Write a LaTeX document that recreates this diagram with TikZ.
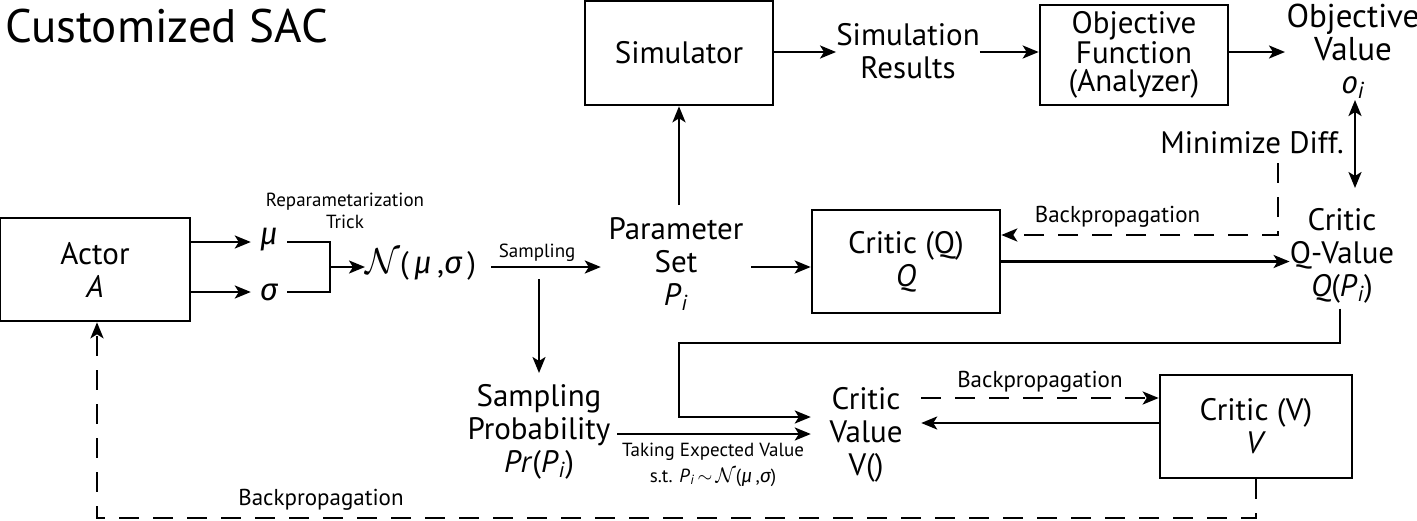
\RequirePackage{fix-cm}
\documentclass[tikz,border=0pt]{standalone}
\usepackage{fontspec}
\setmainfont{PT Sans}
\newfontfamily\grk{Fira Sans}
\newcommand{\gmu}{{\grk\itshape μ}}
\newcommand{\gsg}{{\grk\itshape σ}}
\newcommand{\calN}{$\mathcal{N}$}
\usetikzlibrary{arrows.meta}
\begin{document}
\begin{tikzpicture}[x=1pt,y=-1pt,
  every node/.style={inner sep=0pt},
  bigtxt/.style={font=\fontsize{31}{33}\selectfont, align=center},
  midtxt/.style={font=\fontsize{31}{28}\selectfont, align=center},
  smalltxt/.style={font=\fontsize{19}{22}\selectfont, align=center},
  labtxt/.style={font=\fontsize{23}{24}\selectfont, align=center},
  blk/.style={draw, line width=2.6pt, bigtxt},
  conn/.style={line width=2.5pt},
  arr/.style={conn, -{Stealth[length=16pt,width=13pt,inset=4pt]}},
  dbl/.style={conn, {Stealth[length=16pt,width=13pt,inset=4pt]}-{Stealth[length=16pt,width=13pt,inset=4pt]}},
  dsh/.style={dash pattern=on 20pt off 14pt}
]
\useasboundingbox (0,0) rectangle (1417,520);

% title
\node[anchor=west, font=\fontsize{47}{50}\selectfont] (title) at (5,26) {Customized SAC};

% top row
\node[blk, minimum width=188, minimum height=104] (sim) at (679,53) {Simulator};
\node[bigtxt] (sr) at (908,51) {Simulation\\Results};
\node[blk, midtxt, minimum width=188, minimum height=100] (of) at (1134,55) {Objective\\Function\\(Analyzer)};
\node[font=\fontsize{33}{33}\selectfont, align=center] (ov) at (1353,51) {Objective\\Value\\\textit{o}\textsubscript{\textit{i}}};

% actor part
\node[blk, minimum width=190, minimum height=103] (actor) at (95,269.5) {Actor\\\textit{A}};
\node[bigtxt, minimum width=36] (mu) at (269,240) {\gmu};
\node[bigtxt, minimum width=36] (sg) at (269,292) {\gsg};
\node[smalltxt] (rt) at (345,211) {Reparametarization\\Trick};
\coordinate (b1) at (330,242);
\coordinate (b2) at (330,292);
\coordinate (jn) at (330,267);
\node[bigtxt, anchor=west] (nd) at (365,265) {{\fontsize{36}{36}\selectfont\calN}(\,\gmu\,,\gsg\,)};

% parameter set
\node[bigtxt, minimum width=150] (ps) at (676,264) {Parameter\\Set\\\textit{P}\textsubscript{\textit{i}}};
\node[blk, minimum width=188, minimum height=103] (cq) at (906,261.5) {Critic (Q)\\\textit{Q}};
\node[bigtxt] (cqv) at (1342,256) {Critic\\Q-Value\\\textit{Q}(\textit{P}\textsubscript{\textit{i}})};
\node[bigtxt] (md) at (1252,143) {Minimize Diff.};

% sampling probability
\coordinate (sps) at (539,279);
\node[bigtxt, minimum width=160] (sp) at (539,432) {Sampling\\Probability\\\textit{Pr}(\textit{P}\textsubscript{\textit{i}})};
\node[bigtxt, minimum width=110] (cv) at (866,435) {Critic\\Value\\V()};
\node[blk, minimum width=192, minimum height=103] (cvb) at (1256,426.5) {Critic (V)\\\textit{V}};

% connectors top
\draw[arr] (sim.south |- 0,205) -- (sim.south);
\draw[arr] (sim.east |- 0,52) -- (sr.west |- 0,52);
\draw[arr] (sr.east |- 0,52) -- (of.west |- 0,52);
\draw[arr] (of.east |- 0,52) -- (1285,52);
\draw[dbl] (1355,100) -- (1355,188);

% actor connectors
\draw[arr] (actor.east |- 0,242) -- (mu.west |- 0,242);
\draw[arr] (actor.east |- sg) -- (sg.west);
\draw[conn] (mu.east |- b1) -- (b1) -- (b2) -- (sg.east);
\draw[arr] (jn) -- (nd.west |- jn);

% sampling
\draw[arr] (491,267) -- (ps.west |- jn) node[pos=0.42, above=4pt, smalltxt] (samp) {Sampling};
\draw[arr] (sps) -- (sps |- 0,373);
\draw[arr] (ps.east |- jn) -- (cq.west |- jn);
\draw[arr] (cq.east) -- (cqv.west |- cq.east);

% backprop Q
\coordinate (bq1) at (1278,163);
\coordinate (bq2) at (1278,235);
\draw[arr, dsh] (bq1) -- (bq2) -- (bq2 -| cq.east) node[pos=0.58, above=6pt, labtxt] (bpq) {Backpropagation};

% Q value to V
\coordinate (c1) at (1340,343);
\coordinate (c2) at (679,343);
\coordinate (c3) at (679,417);
\draw[arr] (cqv.south -| c1) ++(0,5) -- (c1) -- (c2) -- (c3) -- (c3 -| cv.west);
\draw[arr] (617,434) -- (cv.west |- 0,434);
\node[smalltxt] (tev) at (713,452) {Taking Expected Value};
\node[smalltxt] (tev2) at (713,477) {s.t. \textit{P}\textsubscript{\textit{i}}\,$\sim$\,{\fontsize{21}{21}\selectfont\calN}(\gmu\,,\gsg)};

% critic V connectors
\draw[arr, dsh] (cv.east |- 0,398) -- (cvb.west |- 0,398) node[midway, above=4pt, labtxt] (bpv) {Backpropagation};
\draw[arr] (cvb.west |- 0,423) -- (cv.east |- 0,423);

% bottom backprop
\coordinate (d1) at (1256,518);
\coordinate (d2) at (97,518);
\draw[arr, dsh] (cvb.south) -- (d1) -- (d2) -- (actor.south -| d2);
\node[labtxt] (bpa) at (321,500) {Backpropagation};
\end{tikzpicture}
\end{document}
